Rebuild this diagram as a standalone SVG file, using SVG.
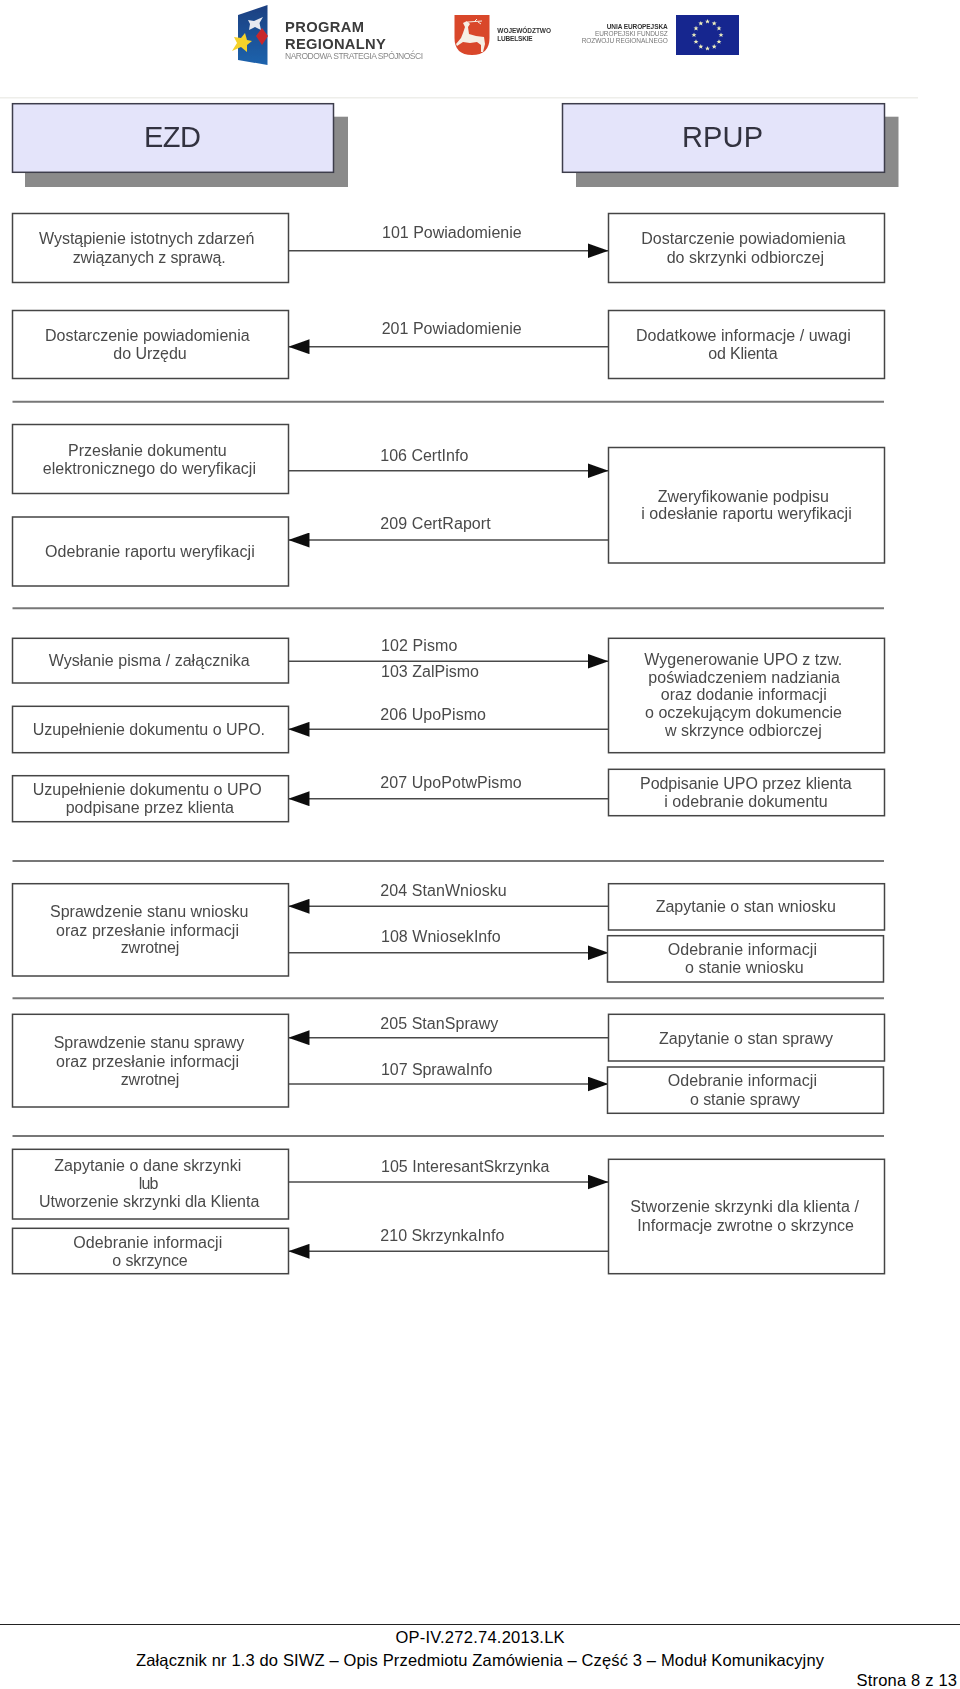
<svg xmlns="http://www.w3.org/2000/svg" width="960" height="1689" viewBox="0 0 960 1689">
<style>
text{font-family:"Liberation Sans",Arial,sans-serif}
.b{fill:#fff;stroke:#444;stroke-width:1.5}
.h{fill:#e4e4fa;stroke:#3c3c4c;stroke-width:1.5}
.s{fill:#8a8a8a}
.t{font-size:16px;fill:#4a4a4a}
.l{font-size:16px;fill:#4a4a4a}
.ht{font-size:29px;fill:#33333f}
.c{stroke:#4a4a4a;stroke-width:1.5;fill:none}
.d{stroke:#777;stroke-width:2}
.f{font-size:16.5px;fill:#000}
</style>
<defs>
<marker id="a" markerUnits="userSpaceOnUse" markerWidth="21" markerHeight="15" refX="21" refY="7.5" orient="auto"><path d="M0 0L21 7.5L0 15Z" fill="#111"/></marker>
<filter id="bl" x="-5%" y="-5%" width="110%" height="110%"><feGaussianBlur stdDeviation="0.35"/></filter>
<filter id="bl2" x="-5%" y="-5%" width="110%" height="110%"><feGaussianBlur stdDeviation="0.5"/></filter>
<linearGradient id="fg" x1="0" y1="0" x2="0" y2="1"><stop offset="0" stop-color="#1d3f80"/><stop offset="1" stop-color="#1f63ad"/></linearGradient>
<polygon id="st" points="0,-2.5 .7,-.8 2.5,-.8 1.1,.3 1.6,2.1 0,1.1 -1.6,2.1 -1.1,.3 -2.5,-.8 -.7,-.8" fill="#efefbe"/>
</defs>
<rect width="960" height="1689" fill="#fff"/>
<g id="logos" filter="url(#bl2)">
<polygon points="238,15 267.5,5 267.5,65 238,60" fill="url(#fg)"/>
<polygon points="263,17 259.5,23 261,30 255,27 249,30 250,24 248,20 254,21" fill="#e6e8f0"/>
<polygon points="262,28 268,36 262,45 256,36" fill="#c8282c"/>
<polygon points="245,33 247,40 252,41 247,45 247,52 241,47 232,51 237,43 234,37 241,38" fill="#f5d22a"/>
<text x="285" y="31.5" font-size="14.7" font-weight="bold" fill="#3a3a3a" textLength="79">PROGRAM</text>
<text x="285" y="48.5" font-size="14.7" font-weight="bold" fill="#3a3a3a" textLength="100.7">REGIONALNY</text>
<text x="285" y="59" font-size="8.5" fill="#888" textLength="138">NARODOWA STRATEGIA SPÓJNOŚCI</text>
<path d="M454.5 15H489.5V38Q489.5 55 472 55Q454.5 55 454.5 38Z" fill="#d9462c"/>
<path d="M463 23L467 21L470 24L468 27L469 34L476 36L484 37L485 44L483 52L481 52L481 45L477 42L470 43L463 42L457 46L456 44L461 38L463 33L465 27Z" fill="#f6efe4"/>
<path d="M468 22L482 21M474 22L477 19M478 22L481 24" stroke="#f6efe4" stroke-width="1" fill="none"/>
<text x="497.3" y="33" font-size="6.5" font-weight="bold" fill="#333" textLength="53.7">WOJEWÓDZTWO</text>
<text x="497.3" y="40.7" font-size="6.5" font-weight="bold" fill="#333" textLength="35.4">LUBELSKIE</text>
<text x="606.7" y="28.7" font-size="6.5" font-weight="bold" fill="#333" textLength="61">UNIA EUROPEJSKA</text>
<text x="595" y="36" font-size="6.5" fill="#777" textLength="72.7">EUROPEJSKI FUNDUSZ</text>
<text x="581.7" y="43.3" font-size="6.5" fill="#777" textLength="86">ROZWOJU REGIONALNEGO</text>
<rect x="676" y="15" width="63" height="40" fill="#14258f"/>
<use href="#st" x="721" y="35"/><use href="#st" x="719" y="41.7"/><use href="#st" x="714.2" y="46.6"/><use href="#st" x="707.5" y="48.5"/><use href="#st" x="700.8" y="46.6"/><use href="#st" x="696" y="41.7"/><use href="#st" x="694" y="35"/><use href="#st" x="696" y="28.3"/><use href="#st" x="700.8" y="23.4"/><use href="#st" x="707.5" y="21.5"/><use href="#st" x="714.2" y="23.4"/><use href="#st" x="719" y="28.3"/>
</g>
<g filter="url(#bl)">
<line x1="0" y1="97.7" x2="918" y2="97.7" stroke="#eeeeea" stroke-width="1.5"/>
<g id="head-ezd"><rect class="s" x="25" y="116.7" width="323" height="70.3"/><rect class="h" x="12.5" y="103.7" width="321" height="68.6"/><text class="ht" x="144" y="147.3" textLength="57">EZD</text></g>
<g id="head-rpup"><rect class="s" x="576" y="116.7" width="322.5" height="70.3"/><rect class="h" x="562.5" y="103.7" width="322" height="68.6"/><text class="ht" x="682" y="147.3" textLength="81">RPUP</text></g>
<g id="dividers" class="d"><line x1="12.5" y1="401.7" x2="884" y2="401.7"/><line x1="12.5" y1="608.3" x2="884" y2="608.3"/><line x1="12.5" y1="861" x2="884" y2="861"/><line x1="12.5" y1="998.3" x2="884" y2="998.3"/><line x1="12.5" y1="1136" x2="884" y2="1136"/></g>
<g id="connectors" class="c">
<line x1="288.5" y1="250.7" x2="608.5" y2="250.7" marker-end="url(#a)"/>
<line x1="608.5" y1="346.7" x2="288.5" y2="346.7" marker-end="url(#a)"/>
<line x1="288.5" y1="470.7" x2="608.5" y2="470.7" marker-end="url(#a)"/>
<line x1="608.5" y1="540" x2="288.5" y2="540" marker-end="url(#a)"/>
<line x1="288.5" y1="661.3" x2="608.5" y2="661.3" marker-end="url(#a)"/>
<line x1="608.5" y1="729.3" x2="288.5" y2="729.3" marker-end="url(#a)"/>
<line x1="608.5" y1="798.7" x2="288.5" y2="798.7" marker-end="url(#a)"/>
<line x1="608.5" y1="906.3" x2="288.5" y2="906.3" marker-end="url(#a)"/>
<line x1="288.5" y1="952.7" x2="608.5" y2="952.7" marker-end="url(#a)"/>
<line x1="608.5" y1="1037.7" x2="288.5" y2="1037.7" marker-end="url(#a)"/>
<line x1="288.5" y1="1084" x2="608.5" y2="1084" marker-end="url(#a)"/>
<line x1="288.5" y1="1182" x2="608.5" y2="1182" marker-end="url(#a)"/>
<line x1="608.5" y1="1251.3" x2="288.5" y2="1251.3" marker-end="url(#a)"/>
</g>
<g id="connector-labels" class="l" transform="translate(0,-0.7)">
<text x="382" y="238.5" textLength="139.7">101 Powiadomienie</text>
<text x="381.7" y="334.3" textLength="140">201 Powiadomienie</text>
<text x="380.3" y="461.7" textLength="88">106 CertInfo</text>
<text x="380.3" y="530" textLength="110.4">209 CertRaport</text>
<text x="381" y="651.3" textLength="76.3">102 Pismo</text>
<text x="381" y="678" textLength="98">103 ZalPismo</text>
<text x="380.3" y="720.3" textLength="105.7">206 UpoPismo</text>
<text x="380.3" y="788.7" textLength="141.4">207 UpoPotwPismo</text>
<text x="380.3" y="896.7" textLength="126.4">204 StanWniosku</text>
<text x="381" y="943" textLength="119.7">108 WniosekInfo</text>
<text x="380.3" y="1029.3" textLength="118">205 StanSprawy</text>
<text x="381" y="1075.3" textLength="111.3">107 SprawaInfo</text>
<text x="381" y="1172.3" textLength="168.3">105 InteresantSkrzynka</text>
<text x="380.3" y="1241.7" textLength="124">210 SkrzynkaInfo</text>
</g>
<g id="n1"><rect class="b" x="12.5" y="213.5" width="276" height="69"/><text class="t" x="39" y="244.3" textLength="215.3">Wystąpienie istotnych zdarzeń</text><text class="t" x="72.7" y="262.7" textLength="153">związanych z sprawą.</text></g>
<g id="n2"><rect class="b" x="608.5" y="213.5" width="276" height="69"/><text class="t" x="641.3" y="244.3" textLength="204.4">Dostarczenie powiadomienia</text><text class="t" x="666.7" y="262.7" textLength="157.3">do skrzynki odbiorczej</text></g>
<g id="n3"><rect class="b" x="12.5" y="310.5" width="276" height="68"/><text class="t" x="45" y="340.7" textLength="204.7">Dostarczenie powiadomienia</text><text class="t" x="113.3" y="359" textLength="73.4">do Urzędu</text></g>
<g id="n4"><rect class="b" x="608.5" y="310.5" width="276" height="68"/><text class="t" x="636" y="340.7" textLength="214.7">Dodatkowe informacje / uwagi</text><text class="t" x="708.3" y="359" textLength="69.4">od Klienta</text></g>
<g id="n5"><rect class="b" x="12.5" y="424.5" width="276" height="69"/><text class="t" x="68" y="455.7" textLength="158.7">Przesłanie dokumentu</text><text class="t" x="42.7" y="474.3" textLength="213.3">elektronicznego do weryfikacji</text></g>
<g id="n6"><rect class="b" x="12.5" y="517" width="276" height="69"/><text class="t" x="45" y="556.7" textLength="209.7">Odebranie raportu weryfikacji</text></g>
<g id="n7"><rect class="b" x="608.5" y="447.5" width="276" height="115.5"/><text class="t" x="657.7" y="502.3" textLength="171.3">Zweryfikowanie podpisu</text><text class="t" x="641.3" y="519.3" textLength="210.4">i odesłanie raportu weryfikacji</text></g>
<g id="n8"><rect class="b" x="12.5" y="638.3" width="276" height="44.7"/><text class="t" x="48.7" y="665.7" textLength="201">Wysłanie pisma / załącznika</text></g>
<g id="n9"><rect class="b" x="12.5" y="706.3" width="276" height="46.4"/><text class="t" x="32.7" y="735" textLength="232.3">Uzupełnienie dokumentu o UPO.</text></g>
<g id="n10"><rect class="b" x="12.5" y="775.7" width="276" height="46"/><text class="t" x="32.7" y="794.7" textLength="229">Uzupełnienie dokumentu o UPO</text><text class="t" x="65.7" y="813" textLength="168.3">podpisane przez klienta</text></g>
<g id="n11"><rect class="b" x="608.5" y="638.3" width="276" height="114.4"/><text class="t" x="644.3" y="664.7" textLength="198">Wygenerowanie UPO z tzw.</text><text class="t" x="648.3" y="683" textLength="191.7">poświadczeniem nadziania</text><text class="t" x="660.7" y="700.3" textLength="166">oraz dodanie informacji</text><text class="t" x="645" y="718.3" textLength="197">o oczekującym dokumencie</text><text class="t" x="665" y="736.3" textLength="156.7">w skrzynce odbiorczej</text></g>
<g id="n12"><rect class="b" x="608.5" y="769.3" width="276" height="46.4"/><text class="t" x="640" y="788.7" textLength="211.7">Podpisanie UPO przez klienta</text><text class="t" x="664.3" y="807" textLength="163.4">i odebranie dokumentu</text></g>
<g id="n13"><rect class="b" x="12.5" y="883.7" width="276" height="92.3"/><text class="t" x="50" y="917.3" textLength="198.3">Sprawdzenie stanu wniosku</text><text class="t" x="56" y="935.7" textLength="183">oraz przesłanie informacji</text><text class="t" x="120.7" y="953" textLength="58.6">zwrotnej</text></g>
<g id="n14"><rect class="b" x="608.5" y="883.7" width="276" height="46.3"/><text class="t" x="655.7" y="912.3" textLength="180.3">Zapytanie o stan wniosku</text></g>
<g id="n15"><rect class="b" x="607.5" y="935.7" width="276" height="46.3"/><text class="t" x="667.7" y="955" textLength="149.3">Odebranie informacji</text><text class="t" x="685" y="973.3" textLength="118.7">o stanie wniosku</text></g>
<g id="n16"><rect class="b" x="12.5" y="1014.3" width="276" height="92.7"/><text class="t" x="53.7" y="1048.3" textLength="190.6">Sprawdzenie stanu sprawy</text><text class="t" x="56" y="1066.7" textLength="183">oraz przesłanie informacji</text><text class="t" x="120.7" y="1085" textLength="58.6">zwrotnej</text></g>
<g id="n17"><rect class="b" x="608.5" y="1014.3" width="276" height="46.7"/><text class="t" x="659" y="1044" textLength="174">Zapytanie o stan sprawy</text></g>
<g id="n18"><rect class="b" x="607.5" y="1067" width="276" height="46.3"/><text class="t" x="667.7" y="1086" textLength="149.3">Odebranie informacji</text><text class="t" x="690" y="1104.7" textLength="110">o stanie sprawy</text></g>
<g id="n19"><rect class="b" x="12.5" y="1149.3" width="276" height="69.7"/><text class="t" x="54.3" y="1171" textLength="187">Zapytanie o dane skrzynki</text><text class="t" x="138.7" y="1189.3" textLength="19.6">lub</text><text class="t" x="39" y="1207.3" textLength="220.3">Utworzenie skrzynki dla Klienta</text></g>
<g id="n20"><rect class="b" x="12.5" y="1228.3" width="276" height="45.4"/><text class="t" x="73.3" y="1247.7" textLength="149">Odebranie informacji</text><text class="t" x="112.3" y="1266" textLength="75.4">o skrzynce</text></g>
<g id="n21"><rect class="b" x="608.5" y="1159.3" width="276" height="114.4"/><text class="t" x="630.3" y="1212.3" textLength="228.7">Stworzenie skrzynki dla klienta /</text><text class="t" x="637.3" y="1230.7" textLength="216.7">Informacje zwrotne o skrzynce</text></g>
</g>
<g id="footer">
<line x1="0" y1="1624.5" x2="960" y2="1624.5" stroke="#222" stroke-width="1.2"/>
<text class="f" x="395.4" y="1643" textLength="169.2">OP-IV.272.74.2013.LK</text>
<text class="f" x="136" y="1665.5" textLength="688">Załącznik nr 1.3 do SIWZ – Opis Przedmiotu Zamówienia – Część 3 – Moduł Komunikacyjny</text>
<text class="f" x="856.5" y="1686" textLength="100.5">Strona 8 z 13</text>
</g>
</svg>
